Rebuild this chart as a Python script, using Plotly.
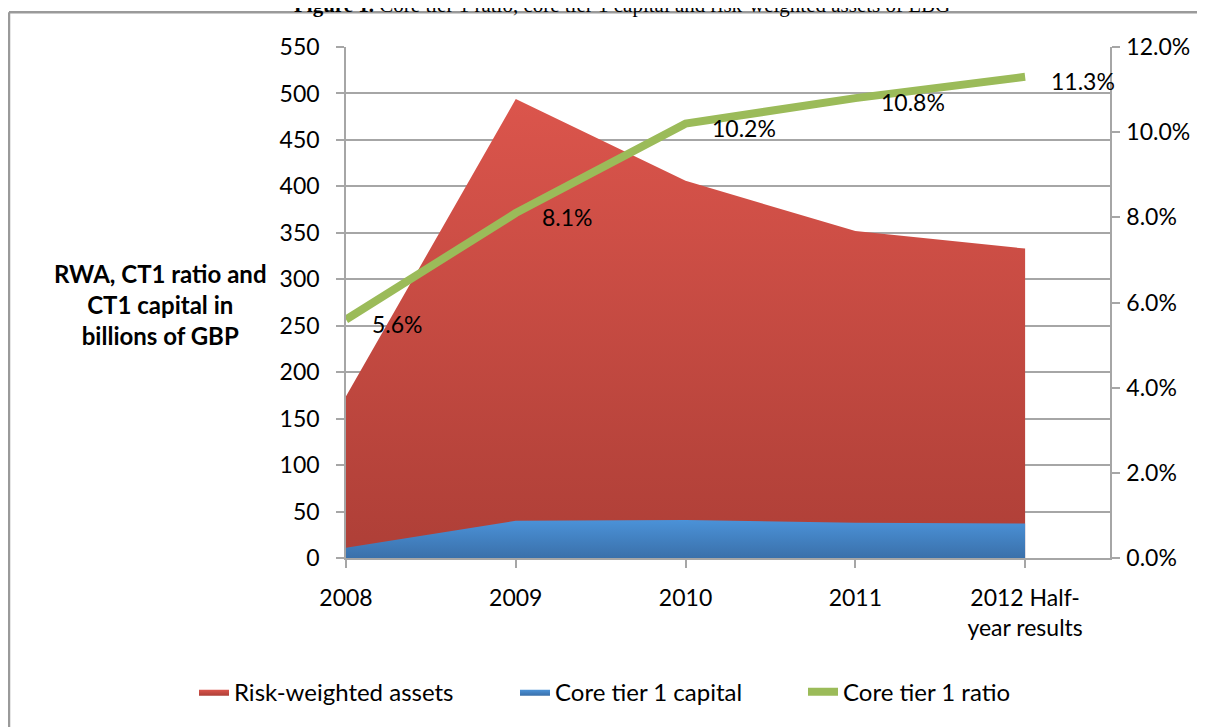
import plotly.graph_objects as go

categories = ["2008", "2009", "2010", "2011", "2012 Half-<br>year results"]
rwa = [174, 494, 406, 352, 333]          # Risk-weighted assets, bn GBP
ct1_capital = [11, 40, 41, 38, 37]       # Core tier 1 capital, bn GBP
ct1_ratio = [5.6, 8.1, 10.2, 10.8, 11.3]  # Core tier 1 ratio, %
ratio_labels = ["5.6%", "8.1%", "10.2%", "10.8%", "11.3%"]
left_ticks = list(range(0, 551, 50))
right_ticks = [0, 2, 4, 6, 8, 10, 12]
right_ticktext = ["0.0%", "2.0%", "4.0%", "6.0%", "8.0%", "10.0%", "12.0%"]

FONT = "Lato"
GRID = "#a6a6a6"
OFF = 8  # page body margin
W, H = 1205 - OFF, 727 - OFF
L, R, T, B = 346 - OFF, 95, 47 - OFF, 167
PW, PH = W - L - R, H - T - B

def px_x(px):
    return (px - OFF - L) / PW

def px_y(py):
    return (H - B - (py - OFF)) / PH

fig = go.Figure()

fig.add_trace(go.Scatter(
    x=categories, y=rwa, name="Risk-weighted assets", mode="lines",
    line=dict(width=0, color="#c94a41"), fill="tozeroy",
    fillgradient=dict(type="vertical", colorscale=[[0, "#ae3f37"], [1, "#db554c"]]),
    hoverinfo="skip", legendwidth=276,
))
fig.add_trace(go.Scatter(
    x=categories, y=ct1_capital, name="Core tier 1 capital", mode="lines",
    line=dict(width=0, color="#4283c8"), fill="tozeroy",
    fillgradient=dict(type="vertical", colorscale=[[0, "#3a70aa"], [1, "#4b92d8"]]),
    hoverinfo="skip", legendwidth=243,
))
fig.add_trace(go.Scatter(
    x=categories, y=ct1_ratio, name="Core tier 1 ratio", mode="lines",
    line=dict(width=8, color="#9bbb59"), yaxis="y2",
    hoverinfo="skip",
))

for i, (v, t) in enumerate(zip(ct1_ratio, ratio_labels)):
    fig.add_annotation(x=i, y=v, xref="x", yref="y2", text=t, showarrow=False,
                       xanchor="left", yanchor="middle", xshift=24, yshift=-4,
                       font=dict(family=FONT, size=23, color="#000000"))

# Y-axis title
fig.add_annotation(x=px_x(160), y=px_y(306), xref="paper", yref="paper",
                   text="<b>RWA, CT1 ratio and<br>CT1 capital in<br>billions of GBP</b>",
                   showarrow=False, xanchor="center", yanchor="middle", align="center",
                   font=dict(family=FONT, size=24, color="#000000"))

# Figure caption (partly cut off at the top, as in the source)
fig.add_annotation(x=px_x(622), y=px_y(5), xref="paper", yref="paper",
                   text="<b>Figure 1.</b> Core tier 1 ratio, core tier 1 capital and risk-weighted assets of LBG",
                   showarrow=False, xanchor="center", yanchor="middle",
                   font=dict(family="Liberation Serif", size=21, color="#000000"))

# Outer frame lines
fig.add_shape(type="line", xref="paper", yref="paper", x0=px_x(9), x1=px_x(1215),
              y0=px_y(12), y1=px_y(12), line=dict(color="#9a9a9a", width=2.5))
fig.add_shape(type="line", xref="paper", yref="paper", x0=px_x(9), x1=px_x(9),
              y0=px_y(12), y1=px_y(740), line=dict(color="#9a9a9a", width=2.5))

fig.update_layout(
    width=W, height=H,
    margin=dict(l=L, r=R, t=T, b=B),
    paper_bgcolor="white", plot_bgcolor="white",
    font=dict(family=FONT, size=23, color="#000000"),
    xaxis=dict(
        type="category", range=[0, 4.5],
        showgrid=False, showline=True, linecolor=GRID, linewidth=1.5,
        ticks="outside", ticklen=8, tickcolor=GRID, tickwidth=1.5,
        ticklabelstandoff=11, tickfont=dict(family=FONT, size=23),
        zeroline=False,
    ),
    yaxis=dict(
        range=[0, 550], tickvals=left_ticks,
        showgrid=True, gridcolor=GRID, gridwidth=1.5,
        showline=True, linecolor=GRID, linewidth=1.5,
        ticks="outside", ticklen=8, tickcolor=GRID, tickwidth=1.5,
        ticklabelstandoff=12, tickfont=dict(family=FONT, size=23),
        zeroline=False,
    ),
    yaxis2=dict(
        range=[0, 12], overlaying="y", side="right",
        tickvals=right_ticks, ticktext=right_ticktext,
        showgrid=False, showline=True, linecolor=GRID, linewidth=1.5,
        ticks="outside", ticklen=8, tickcolor=GRID, tickwidth=1.5,
        ticklabelstandoff=2, tickfont=dict(family=FONT, size=23),
        zeroline=False,
    ),
    legend=dict(
        orientation="h", x=px_x(194), y=px_y(672), xanchor="left", yanchor="top",
        font=dict(family=FONT, size=24),
        bgcolor="rgba(0,0,0,0)",
    ),
    showlegend=True,
)

fig.write_html("out.html")
